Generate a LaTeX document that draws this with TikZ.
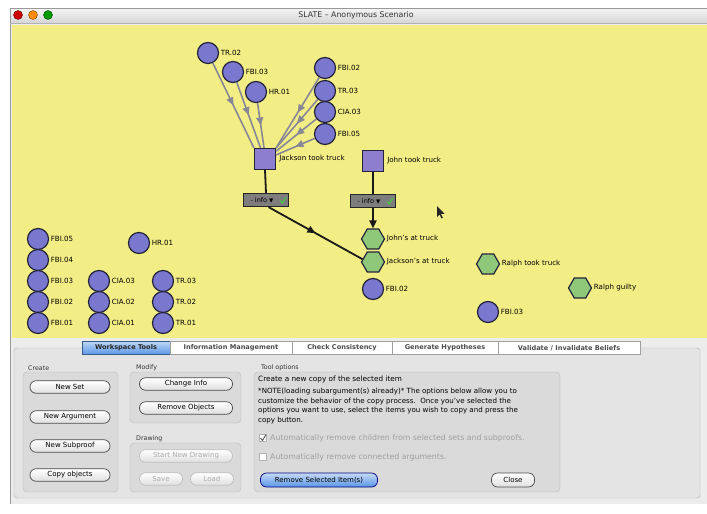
\documentclass[tikz,border=0pt]{standalone}
\usepackage{fontspec}
\setmainfont{DejaVu Sans}
\newfontfamily\symfont{DejaVu Sans}
\usetikzlibrary{shapes.geometric,decorations.markings,arrows.meta}
\definecolor{bgyellow}{RGB}{243,237,133}
\definecolor{circfill}{RGB}{122,120,206}
\definecolor{sqfill}{RGB}{142,126,206}
\definecolor{hexfill}{RGB}{142,200,120}
\definecolor{edgegray}{RGB}{135,135,150}
\definecolor{nodeline}{RGB}{35,35,60}
\definecolor{panelgray}{RGB}{236,236,236}
\definecolor{panedark}{RGB}{228,228,228}
\definecolor{groupfill}{RGB}{218,218,218}
\definecolor{groupline}{RGB}{185,185,185}
\definecolor{infogray}{RGB}{125,125,125}
\definecolor{checkgreen}{RGB}{70,200,70}
\definecolor{tabblue}{RGB}{90,150,230}
\begin{document}
\begin{tikzpicture}[x=1pt,y=-1pt,
  lbl/.style={font=\fontsize{7.1}{8}\selectfont, inner sep=1pt},
  evid/.style={circle, draw=nodeline, line width=1.2pt, fill=circfill, minimum size=21pt, inner sep=0pt,
     label={[lbl, label distance=0.5pt]right:#1}},
  prop/.style={rectangle, draw=nodeline, line width=1.2pt, fill=sqfill, minimum size=21pt, inner sep=0pt,
     label={[lbl, label distance=2pt]right:#1}},
  hyp/.style={regular polygon, regular polygon sides=6, draw=nodeline, line width=1.2pt, fill=hexfill,
     minimum size=23pt, inner sep=0pt, label={[lbl, label distance=0.5pt]right:#1}},
  infobox/.style={rectangle, draw=black!85, line width=1.2pt, fill=infogray, minimum width=45pt,
     minimum height=13pt, inner sep=0pt, font=\fontsize{6.5}{7}\selectfont},
  grayarrow/.style={draw=edgegray, line width=1.6pt, postaction={decorate},
     decoration={markings, mark=at position 0.5 with {\arrow[edgegray]{Triangle[length=8pt,width=7pt]}}}},
  blackmid/.style={draw=black!90, line width=1.8pt, postaction={decorate},
     decoration={markings, mark=at position 0.5 with {\arrow{Triangle[length=8pt,width=7pt]}}}},
  tab/.style={rectangle, draw=gray!75, fill=white, minimum height=13pt, inner sep=0pt,
     font=\fontsize{6.6}{8}\selectfont\bfseries, text=black!70},
  btn/.style={rectangle, rounded corners=6pt, draw=gray!60!black, line width=0.7pt, top color=white, bottom color=gray!25,
     minimum height=12.5pt, inner sep=0pt, font=\fontsize{7}{8}\selectfont},
  btnoff/.style={btn, draw=gray!50, text=gray!65},
  groupbox/.style={draw=groupline, fill=groupfill, rounded corners=4pt},
  grouplabel/.style={anchor=west, inner sep=0pt, font=\fontsize{6.3}{7}\selectfont, text=black!80}
]
\useasboundingbox (0,0) rectangle (707,514);
\fill[white] (0,0) rectangle (707,514);
% window body
\fill[panelgray] (10,8) rectangle (707,504);
\shade[top color=gray!8, bottom color=gray!32] (10,8) rectangle (707,23);
\draw[gray!80] (10,504) -- (10,8) -- (707,8);
\draw[gray!60] (10,23) -- (707,23);
\node[circle, fill=red!80!black, draw=red!40!black, minimum size=9pt, inner sep=0pt] (bred) at (18,15) {};
\node[circle, fill=orange!90!yellow, draw=orange!50!black, minimum size=9pt, inner sep=0pt] (bora) at (33,15) {};
\node[circle, fill=green!60!black, draw=green!30!black, minimum size=9pt, inner sep=0pt] (bgrn) at (48,15) {};
\node[font=\fontsize{7.8}{8}\selectfont, text=black!80] (title) at (356,15) {SLATE -- Anonymous Scenario};
% workspace
\fill[bgyellow] (12,25) rectangle (707,338);

% top cluster
\node[evid=TR.02] (a1) at (208,53) {};
\node[evid=FBI.03] (a2) at (233,72) {};
\node[evid=HR.01] (a3) at (256,92) {};
\node[evid=FBI.02] (a4) at (325,68) {};
\node[evid=TR.03] (a5) at (325,91) {};
\node[evid=CIA.03] (a6) at (325,112) {};
\node[evid=FBI.05] (a7) at (325,134) {};
\node[prop={Jackson took truck}] (jack) at (265,159) {};
\node[prop={John took truck}] (john) at (373,161) {};
\node[infobox] (info1) at (266,200) {\hspace*{-8pt}- info {\fontsize{5.5}{6}\selectfont ▼}};
\node[infobox] (info2) at (373,201) {\hspace*{-8pt}- info {\fontsize{5.5}{6}\selectfont ▼}};
\draw[checkgreen, line width=1.1pt] ([shift={(-9,0.5)}]info1.east) -- ++(2,2.5) -- ++(4,-6);
\draw[checkgreen, line width=1.1pt] ([shift={(-9,0.5)}]info2.east) -- ++(2,2.5) -- ++(4,-6);
\node[hyp={John's at truck}] (jhat) at (373,239) {};
\node[hyp={Jackson's at truck}] (jkat) at (373,262) {};
\node[evid=FBI.02] (m1) at (373,289) {};
\node[hyp={Ralph took truck}] (ralph) at (488,264) {};
\node[hyp={Ralph guilty}] (rg) at (580,288) {};
\node[evid=FBI.03] (m2) at (488,312) {};

% left cluster
\node[evid=FBI.05] (l1) at (38,239) {};
\node[evid=FBI.04] (l2) at (38,260) {};
\node[evid=FBI.03] (l3) at (38,281) {};
\node[evid=FBI.02] (l4) at (38,302) {};
\node[evid=FBI.01] (l5) at (38,323) {};
\node[evid=HR.01] (h1) at (139,243) {};
\node[evid=CIA.03] (c3) at (99,281) {};
\node[evid=CIA.02] (c2) at (99,302) {};
\node[evid=CIA.01] (c1) at (99,323) {};
\node[evid=TR.03] (t3) at (163,281) {};
\node[evid=TR.02] (t2) at (163,302) {};
\node[evid=TR.01] (t1) at (163,323) {};

% connectors
\draw[grayarrow] (a1) -- (jack.north west);
\draw[grayarrow] (a2) -- (jack.112);
\draw[grayarrow] (a3) -- (jack.95);
\draw[grayarrow] (a4) -- (jack.north east);
\draw[grayarrow] (a5) -- (jack.45);
\draw[grayarrow] (a6) -- (jack.35);
\draw[grayarrow] (a7) -- (jack.20);
\draw[black!90, line width=1.8pt] (jack.south) -- (info1.north);
\draw[black!90, line width=1.8pt] (john.south) -- (info2.north);
\draw[blackmid] (info1.-70) -- (jkat.165);
\draw[black!90, line width=1.8pt, -{Triangle[length=8pt,width=7pt]}] (info2.south) -- (jhat.north);

% mouse cursor
\fill[black!85] (437,206) -- (437,217) -- (439.6,214.6) -- (441.4,218.4) -- (442.8,217.8) -- (441,214) -- (444.5,213.8) -- cycle;

% bottom panel
\draw[gray!60, fill=panedark, rounded corners=3pt] (14,348) rectangle (700,498);
\node[tab, minimum width=88pt, top color=tabblue!40, bottom color=tabblue, draw=tabblue!60!black, text=black!85] (tab1) at (126,348) {Workspace Tools};
\node[tab, minimum width=122pt] (tab2) at (231,348) {Information Management};
\node[tab, minimum width=100pt] (tab3) at (342,348) {Check Consistency};
\node[tab, minimum width=106pt] (tab4) at (445,348) {Generate Hypotheses};
\node[tab, minimum width=142pt] (tab5) at (569,348) {Validate / Invalidate Beliefs};

% Create
\node[grouplabel] (gcreate) at (28,368) {Create};
\draw[groupbox] (23,372) rectangle (118,492);
\node[btn, minimum width=80pt] (b1) at (70,387) {New Set};
\node[btn, minimum width=80pt] (b2) at (70,417) {New Argument};
\node[btn, minimum width=80pt] (b3) at (70,446) {New Subproof};
\node[btn, minimum width=80pt] (b4) at (70,475) {Copy objects};
% Modify
\node[grouplabel] (gmodify) at (136,368) {Modify};
\draw[groupbox] (130,372) rectangle (241,423);
\node[btn, minimum width=93pt] (b5) at (186,384) {Change Info};
\node[btn, minimum width=93pt] (b6) at (186,408) {Remove Objects};
% Drawing
\node[grouplabel] (gdraw) at (136,439) {Drawing};
\draw[groupbox] (130,443) rectangle (241,492);
\node[btnoff, minimum width=93pt] (b7) at (186,456) {Start New Drawing};
\node[btnoff, minimum width=43pt] (b8) at (161,479) {Save};
\node[btnoff, minimum width=43pt] (b9) at (212,479) {Load};
% Tool options
\node[grouplabel] (gtool) at (261,368) {Tool options};
\draw[groupbox] (254,372) rectangle (560,492);
\node[anchor=west, inner sep=0pt, font=\fontsize{7.3}{8}\selectfont] (tdesc) at (258,379) {Create a new copy of the selected item};
\node[anchor=north west, inner sep=0pt, align=left, font=\fontsize{7.1}{9.6}\selectfont] (tpara) at (258,388)
 {*NOTE(loading subargument(s) already)* The options below allow you to\\
  customize the behavior of the copy process.\ \ Once you've selected the\\
  options you want to use, select the items you wish to copy and press the\\
  copy button.};
\node[rectangle, draw=gray!60, fill=white, minimum size=7pt, inner sep=0pt] (cb1) at (263,438) {};
\draw[gray!70!black, line width=0.9pt] ([shift={(-2.5,0)}]cb1.center) -- ++(2,2.5) -- ++(3.5,-6);
\node[anchor=west, inner sep=0pt, text=gray!75, font=\fontsize{7.8}{8}\selectfont] (cbt1) at (270,438) {Automatically remove children from  selected sets and subproofs.};
\node[rectangle, draw=gray!60, fill=white, minimum size=7pt, inner sep=0pt] (cb2) at (263,457) {};
\node[anchor=west, inner sep=0pt, text=gray!75, font=\fontsize{7.8}{8}\selectfont] (cbt2) at (270,457) {Automatically remove connected arguments.};
\node[btn, minimum width=117pt, minimum height=14pt, top color=tabblue!35, bottom color=tabblue, draw=blue!50!black] (b10) at (319,480) {Remove Selected Item(s)};
\node[btn, minimum width=43pt, minimum height=14pt] (b11) at (513,480) {Close};
\end{tikzpicture}
\end{document}
